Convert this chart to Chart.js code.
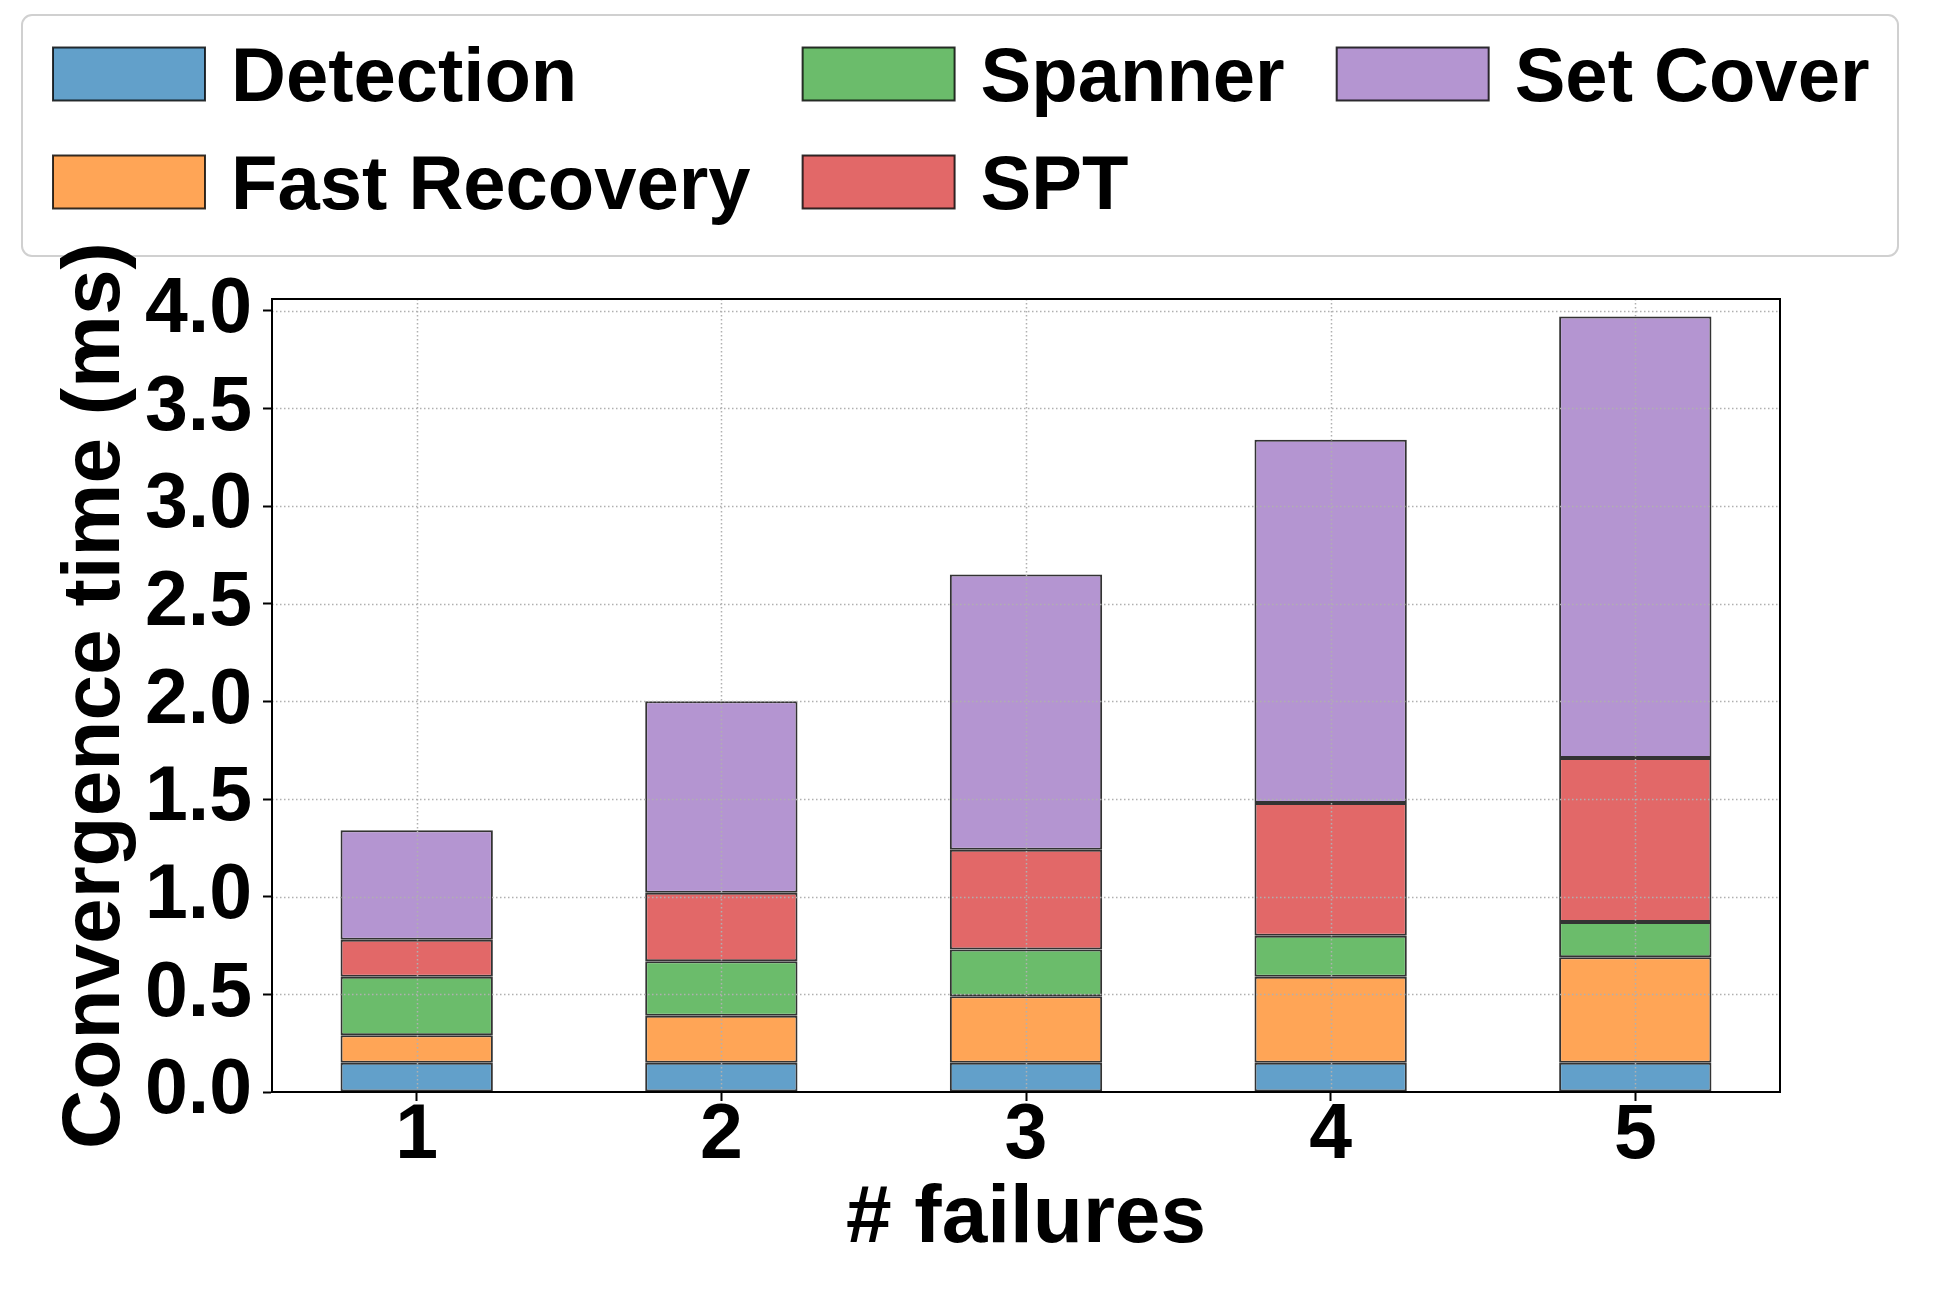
<!DOCTYPE html>
<html><head><meta charset="utf-8">
<script src="https://cdn.jsdelivr.net/npm/chart.js@4.4.0/dist/chart.umd.min.js"></script>
<style>html,body{margin:0;padding:0;background:#fff;} canvas{display:block}</style>
</head><body>
<canvas id="c" width="1937" height="1292"></canvas>
<script>
// ---- data ----
const failures = [1, 2, 3, 4, 5];
const xTickLabels = ['1', '2', '3', '4', '5'];
const detection = [0.15, 0.15, 0.15, 0.15, 0.15];
const fastRecovery = [0.14, 0.24, 0.34, 0.44, 0.54];
const spanner = [0.30, 0.28, 0.24, 0.21, 0.18];
const spt = [0.19, 0.35, 0.51, 0.68, 0.84];
const setCover = [0.56, 0.98, 1.41, 1.86, 2.26];
const seriesNames = ['Detection', 'Fast Recovery', 'Spanner', 'SPT', 'Set Cover'];
const seriesValues = [detection, fastRecovery, spanner, spt, setCover];
const seriesColors = ['#62a0ca', '#ffa556', '#6bbc6b', '#e26868', '#b495d1'];
const yTicks = [0, 0.5, 1.0, 1.5, 2.0, 2.5, 3.0, 3.5, 4.0];

const FAMILY = '"Liberation Sans", Arial, Helvetica, sans-serif';
const EDGE = 'rgba(0,0,0,0.8)';

const gridOnTop = {
  id: 'gridOnTop',
  afterDatasetsDraw(chart) {
    const {ctx, chartArea: a, scales: {x, y}} = chart;
    ctx.save();
    ctx.beginPath(); ctx.rect(a.left, a.top, a.right - a.left, a.bottom - a.top); ctx.clip();
    ctx.strokeStyle = '#b0b0b0';
    ctx.lineWidth = 1.5;
    ctx.setLineDash([1.5, 2.5]);
    x.ticks.forEach(t => {
      const px = Math.round(x.getPixelForValue(t.value)) + 0.5;
      ctx.beginPath(); ctx.moveTo(px, a.top); ctx.lineTo(px, a.bottom); ctx.stroke();
    });
    y.ticks.forEach(t => {
      const py = Math.round(y.getPixelForValue(t.value)) + 0.5;
      ctx.beginPath(); ctx.moveTo(a.left, py); ctx.lineTo(a.right, py); ctx.stroke();
    });
    ctx.restore();
    ctx.save();
    ctx.strokeStyle = '#000';
    ctx.lineWidth = 2;
    ctx.strokeRect(a.left, a.top, a.right - a.left, a.bottom - a.top);
    ctx.restore();
  }
};

const mplLegend = {
  id: 'mplLegend',
  beforeDraw(chart) {
    const ctx = chart.ctx;
    const fs = 76;
    ctx.save();
    const bx = 22, by = 15, bw = 1876, bh = 241, r = 10;
    ctx.beginPath();
    ctx.moveTo(bx + r, by);
    ctx.arcTo(bx + bw, by, bx + bw, by + bh, r);
    ctx.arcTo(bx + bw, by + bh, bx, by + bh, r);
    ctx.arcTo(bx, by + bh, bx, by, r);
    ctx.arcTo(bx, by, bx + bw, by, r);
    ctx.closePath();
    ctx.fillStyle = '#ffffff';
    ctx.fill();
    ctx.strokeStyle = '#d0d0d0';
    ctx.lineWidth = 2;
    ctx.stroke();

    ctx.font = `bold ${fs}px ${FAMILY}`;
    ctx.textBaseline = 'alphabetic';
    ctx.textAlign = 'left';
    const ds = chart.data.datasets;
    const nrows = 2;
    const ncols = Math.ceil(ds.length / nrows);
    const handleW = 152, handleH = 53, textPad = 26, colSpace = 52;
    const rowCenters = [74, 182];
    let x = 53;
    for (let c = 0; c < ncols; c++) {
      let maxW = 0;
      for (let rr = 0; rr < nrows; rr++) {
        const i = c * nrows + rr;
        if (i >= ds.length) continue;
        const d = ds[i];
        const cy = rowCenters[rr];
        ctx.fillStyle = d.backgroundColor;
        ctx.fillRect(x, cy - handleH / 2, handleW, handleH);
        ctx.strokeStyle = EDGE;
        ctx.lineWidth = 2;
        ctx.strokeRect(x, cy - handleH / 2, handleW, handleH);
        ctx.fillStyle = '#000';
        ctx.fillText(d.label, x + handleW + textPad, cy + 0.358 * fs);
        maxW = Math.max(maxW, ctx.measureText(d.label).width);
      }
      x += handleW + textPad + maxW + colSpace;
    }
    ctx.restore();
  }
};

const datasets = seriesNames.map((name, k) => ({
  label: name,
  data: failures.map((f, i) => ({x: f, y: seriesValues[k][i]})),
  backgroundColor: seriesColors[k],
  borderColor: EDGE,
  borderWidth: 2,
  borderSkipped: false,
  barPercentage: 0.5,
  categoryPercentage: 1.0,
  stack: 's'
}));

const tickFont = {family: FAMILY, size: 77, weight: 'bold'};
const titleFont = {family: FAMILY, size: 82, weight: 'bold'};

new Chart(document.getElementById('c'), {
  type: 'bar',
  data: {datasets},
  plugins: [gridOnTop, mplLegend],
  options: {
    responsive: false,
    devicePixelRatio: 1,
    animation: false,
    layout: {padding: {top: 299, right: 157, bottom: 0, left: 0}},
    plugins: {legend: {display: false}, tooltip: {enabled: false}, title: {display: false}},
    scales: {
      x: {
        type: 'linear', stacked: true, min: 0.525, max: 5.475, offset: false,
        afterBuildTicks: s => { s.ticks = failures.map(v => ({value: v})); },
        afterFit: s => { s.height = 200; },
        ticks: {callback: (v, i) => xTickLabels[i], font: tickFont, color: '#000', padding: -10, maxRotation: 0, autoSkip: false},
        grid: {offset: false, drawOnChartArea: false, drawTicks: true, tickLength: 9, tickColor: '#000', tickWidth: 2},
        border: {display: true, color: '#000', width: 2},
        title: {display: true, text: '# failures', font: titleFont, color: '#000', padding: {top: 0, bottom: 23}}
      },
      y: {
        type: 'linear', stacked: true, min: 0, max: 4.06,
        afterBuildTicks: s => { s.ticks = yTicks.map(v => ({value: v})); },
        afterFit: s => { s.width = 272; },
        ticks: {callback: v => Number(v).toFixed(1), font: tickFont, color: '#000', padding: 11, autoSkip: false},
        grid: {drawOnChartArea: false, drawTicks: true, tickLength: 9, tickColor: '#000', tickWidth: 2},
        border: {display: true, color: '#000', width: 2},
        title: {display: true, text: 'Convergence time (ms)', font: titleFont, color: '#000', padding: {top: 47, bottom: 0}}
      }
    }
  }
});
</script>
</body></html>
